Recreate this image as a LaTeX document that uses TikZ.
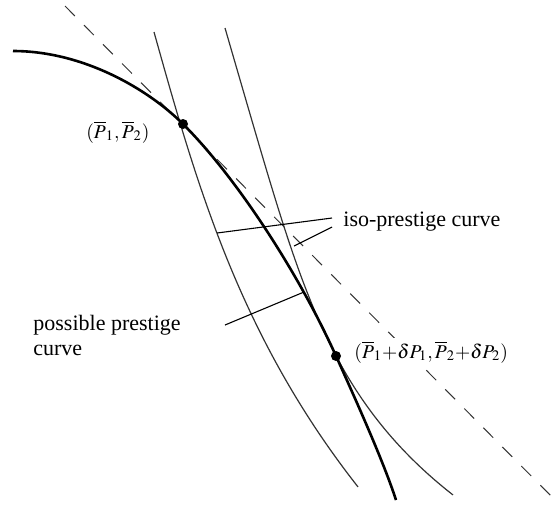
\documentclass[tikz,border=0pt]{standalone}
\usepackage{mathptmx}
\usepackage{fontspec}
\setmainfont{Liberation Serif}
\begin{document}
\begin{tikzpicture}[x=0.5pt,y=-0.5pt,
  thick curve/.style={line width=1.3pt, black},
  thin curve/.style={line width=0.6pt, black!80},
  pointer/.style={line width=0.55pt, black},
  tangent/.style={line width=0.5pt, black!80, dash pattern=on 7pt off 6.5pt},
  dot/.style={circle, fill=black, inner sep=0pt, minimum size=5pt},
  lbl/.style={inner sep=0pt, font=\fontsize{11}{12.5}\selectfont},
  mlbl/.style={inner sep=0pt, font=\fontsize{9.8}{11}\selectfont}]
\useasboundingbox (0,0) rectangle (560,505);

% points
\coordinate (p1) at (183,124);
\coordinate (p2) at (336,356);

% tangent (dashed)
\coordinate (t0) at (65,6);
\coordinate (t1) at (558,503);
\draw[tangent] (t0) -- (t1);

% iso-prestige curves
\draw[thin curve] plot[domain=0:4.55, samples=90]
  ({154+28*\x+0.814*\x*\x*\x}, {32+100*\x});
\draw[thin curve] plot[domain=0:4.67, samples=90]
  ({225+29.05*\x+0.0416*\x*\x*\x*\x*\x}, {28+100*\x});

% possible prestige curve
\coordinate (s0) at (13,51);
\coordinate (s3) at (396,500);
\draw[thick curve] (s0) .. controls (83,51) and (148,89) .. (p1)
  .. controls (238,179) and (300,276) .. (p2)
  .. controls (354,396) and (383,460) .. (s3);

% labels
\node[lbl, anchor=base west] (iso) at (343,226) {iso-prestige curve};
\node[lbl, anchor=north west, align=left] (pos) at (33,315) {possible prestige\\curve};
\node[mlbl, anchor=base east] (l1) at (150,138) {$(\overline{P}_1, \overline{P}_2)$};
\node[mlbl, anchor=base west, fill=white, inner sep=1.5pt] (l2) at (351,358) {$(\overline{P}_1{+}\delta P_1, \overline{P}_2{+}\delta P_2)$};

% pointer ends
\coordinate (ia) at (217,233);
\coordinate (ib) at (294,246);
\coordinate (pc) at (304,292);
\coordinate (is1) at (332,218);
\coordinate (is2) at (332,227);
\coordinate (ps) at (225,325);
\draw[pointer] (is1) -- (ia);
\draw[pointer] (is2) -- (ib);
\draw[pointer] (ps) -- (pc);

% dots
\node[dot] (d1) at (p1) {};
\node[dot] (d2) at (p2) {};
\end{tikzpicture}
\end{document}
